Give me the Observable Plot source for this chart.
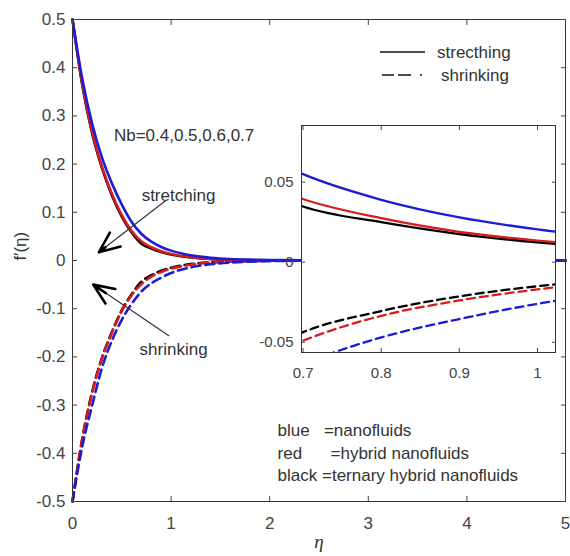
<!DOCTYPE html>
<html><head><meta charset="utf-8">
<script src="https://cdn.jsdelivr.net/npm/d3@7"></script>
<script src="https://cdn.jsdelivr.net/npm/@observablehq/plot@0.6"></script>
<style>
body{margin:0;background:#fff;}
#wrap{position:relative;width:570px;height:556px;font-family:"Liberation Sans",Arial,sans-serif;}
#wrap svg{position:absolute;max-width:none;}
</style></head><body><div id="wrap"></div>
<script>
// eta grid
const eta = [0, 0.1, 0.2, 0.3, 0.4, 0.5, 0.6, 0.7, 0.8, 0.9, 1.0, 1.2, 1.4, 1.6, 1.8, 2.0, 2.5, 3.0, 4.0, 5.0];
// stretching (solid)
const blueStretch  = [0.5, 0.376, 0.283, 0.213, 0.160, 0.116, 0.080, 0.055, 0.039, 0.028, 0.0205, 0.011, 0.0058, 0.003, 0.0016, 0.0008, 0.0002, 0, 0, 0];
const redStretch   = [0.5, 0.365, 0.266, 0.194, 0.138, 0.094, 0.061, 0.0395, 0.0275, 0.019, 0.0135, 0.0068, 0.0034, 0.0017, 0.0008, 0.0004, 0.0001, 0, 0, 0];
const blackStretch = [0.5, 0.363, 0.263, 0.191, 0.135, 0.091, 0.058, 0.0348, 0.0250, 0.0176, 0.0124, 0.0062, 0.0031, 0.0015, 0.0007, 0.0003, 0.0001, 0, 0, 0];
// shrinking (dashed)
const blueShrink  = [-0.5, -0.385, -0.300, -0.222, -0.166, -0.123, -0.090, -0.064, -0.047, -0.0355, -0.026, -0.0142, -0.0078, -0.0043, -0.0024, -0.0013, -0.0003, -0.0001, 0, 0];
const redShrink   = [-0.5, -0.370, -0.274, -0.203, -0.150, -0.105, -0.072, -0.049, -0.0335, -0.0239, -0.017, -0.0087, -0.0044, -0.0022, -0.0011, -0.0006, -0.0001, 0, 0, 0];
const blackShrink = [-0.5, -0.368, -0.272, -0.201, -0.148, -0.103, -0.070, -0.0437, -0.0305, -0.0213, -0.015, -0.0075, -0.0037, -0.0018, -0.0009, -0.0004, -0.0001, 0, 0, 0];

const xTicks = [0, 1, 2, 3, 4, 5];
const yTicks = [-0.5, -0.4, -0.3, -0.2, -0.1, 0, 0.1, 0.2, 0.3, 0.4, 0.5];
const insetXTicks = [0.7, 0.8, 0.9, 1];
const insetYTicks = [-0.05, 0, 0.05];

const colors = {blue: "#1c1cd6", red: "#d61c1c", black: "#000000"};

function rows(list) {
  const out = [];
  list.forEach(([name, vals]) => eta.forEach((e, i) => out.push({eta: e, f: vals[i], series: name, color: colors[name]})));
  return out;
}
const stretchRows = rows([["black", blackStretch], ["red", redStretch], ["blue", blueStretch]]);
const shrinkRows = rows([["black", blackShrink], ["red", redShrink], ["blue", blueShrink]]);

// annotations (data coordinates)
const nbNote = [{x: 0.42, y: 0.259, text: "Nb=0.4,0.5,0.6,0.7"}];
const midNotes = [{x: 1.075, y: 0.135, text: "stretching"}, {x: 1.025, y: -0.185, text: "shrinking"}];
const colorNotes = [
  {x: 2.08, y: -0.353, text: "blue\u00a0\u00a0\u00a0=nanofluids"},
  {x: 2.08, y: -0.400, text: "red\u00a0\u00a0\u00a0\u00a0\u00a0\u00a0=hybrid nanofluids"},
  {x: 2.08, y: -0.446, text: "black =ternary hybrid nanofluids"}
];
const arrows = [
  {x1: 0.943, y1: 0.124, x2: 0.267, y2: 0.017},
  {x1: 0.977, y1: -0.156, x2: 0.21, y2: -0.050}
];

const FONT = "Liberation Sans, Arial, sans-serif";
const tickColor = "#444";

const main = Plot.plot({
  width: 570, height: 556,
  marginLeft: 72, marginRight: 5, marginTop: 19, marginBottom: 55,
  x: {domain: [0, 5], axis: null},
  y: {domain: [-0.5, 0.5], axis: null},
  style: {fontFamily: FONT, background: "transparent"},
  marks: [
    Plot.line(shrinkRows, {x: "eta", y: "f", z: "series", stroke: "color", strokeWidth: 2.6, strokeDasharray: "9,5", curve: "monotone-x"}),
    Plot.line(stretchRows, {x: "eta", y: "f", z: "series", stroke: "color", strokeWidth: 2.6, curve: "monotone-x"}),
    Plot.frame({stroke: "#333"}),
    Plot.axisX({ticks: xTicks, tickSize: -5, tickPadding: 20, fontSize: 17, color: tickColor, label: null, tickFormat: d => String(d)}),
    Plot.axisX({anchor: "top", ticks: xTicks, tickSize: -5, color: tickColor, label: null, tickFormat: () => ""}),
    Plot.axisY({ticks: yTicks, tickSize: -5, tickPadding: 12, fontSize: 17, color: tickColor, label: null, tickFormat: d => String(d)}),
    Plot.axisY({anchor: "right", ticks: yTicks, tickSize: -5, color: tickColor, label: null, tickFormat: () => ""}),
    Plot.text(["f\u2032(\u03b7)"], {frameAnchor: "left", dx: -52, rotate: -90, fontSize: 17, fill: "#333"}),
    Plot.text(["\u03b7"], {frameAnchor: "bottom", dy: 46, fontSize: 19, fontStyle: "italic", fontFamily: "Liberation Serif, serif", fill: "#333"}),
    Plot.text(nbNote, {x: "x", y: "y", text: "text", textAnchor: "start", fontSize: 17, fill: "#333"}),
    Plot.text(midNotes, {x: "x", y: "y", text: "text", fontSize: 17, fill: "#333"}),
    Plot.text(colorNotes, {x: "x", y: "y", text: "text", textAnchor: "start", fontSize: 17, fill: "#333"}),
    Plot.arrow(arrows, {x1: "x1", y1: "y1", x2: "x2", y2: "y2", stroke: "#333", strokeWidth: 1.2, headLength: 0}),
    Plot.arrow(arrows, {x1: "x1", y1: "y1", x2: "x2", y2: "y2", stroke: "#000", strokeWidth: 2.6, headLength: 13, headAngle: 46, insetStart: 76, strokeLinejoin: "miter"})
  ]
});
main.style.left = "0px"; main.style.top = "0px";
document.getElementById("wrap").appendChild(main);

const inset = Plot.plot({
  width: 307, height: 262,
  marginLeft: 45, marginRight: 8, marginTop: 5, marginBottom: 30,
  x: {domain: [0.698, 1.023], axis: null},
  y: {domain: [-0.0564, 0.0854], axis: null},
  style: {fontFamily: FONT, background: "transparent"},
  marks: [
    Plot.frame({fill: "white", stroke: null}),
    Plot.line(shrinkRows, {x: "eta", y: "f", z: "series", stroke: "color", strokeWidth: 2.3, strokeDasharray: "8,5", curve: "monotone-x", clip: true}),
    Plot.line(stretchRows, {x: "eta", y: "f", z: "series", stroke: "color", strokeWidth: 2.3, curve: "monotone-x", clip: true}),
    Plot.frame({stroke: "#333"}),
    Plot.axisX({ticks: insetXTicks, tickSize: -4, tickPadding: 19, fontSize: 15, color: tickColor, label: null, tickFormat: d => String(d)}),
    Plot.axisX({anchor: "top", ticks: insetXTicks, tickSize: -4, color: tickColor, label: null, tickFormat: () => ""}),
    Plot.axisY({ticks: insetYTicks, tickSize: -4, tickPadding: 12, fontSize: 15, color: tickColor, label: null, tickFormat: d => String(d)}),
    Plot.axisY({anchor: "right", ticks: insetYTicks, tickSize: -4, color: tickColor, label: null, tickFormat: () => ""})
  ]
});
inset.style.left = "256px"; inset.style.top = "120px";
document.getElementById("wrap").appendChild(inset);

// legend (top right)
const leg = d3.create("svg").attr("width", 570).attr("height", 100).style("left", "0px").style("top", "0px");
leg.append("line").attr("x1", 380).attr("x2", 425).attr("y1", 52).attr("y2", 52).attr("stroke", "#111").attr("stroke-width", 1.6);
leg.append("line").attr("x1", 382).attr("x2", 424).attr("y1", 75).attr("y2", 75).attr("stroke", "#111").attr("stroke-width", 1.6).attr("stroke-dasharray", "12,4,13,9,2,100");
leg.append("text").attr("x", 437).attr("y", 52).attr("dy", "0.35em").attr("font-size", 17).attr("fill", "#333").attr("font-family", FONT).text("strecthing");
leg.append("text").attr("x", 441).attr("y", 75).attr("dy", "0.35em").attr("font-size", 17).attr("fill", "#333").attr("font-family", FONT).text("shrinking");
document.getElementById("wrap").appendChild(leg.node());
</script>
</body></html>
